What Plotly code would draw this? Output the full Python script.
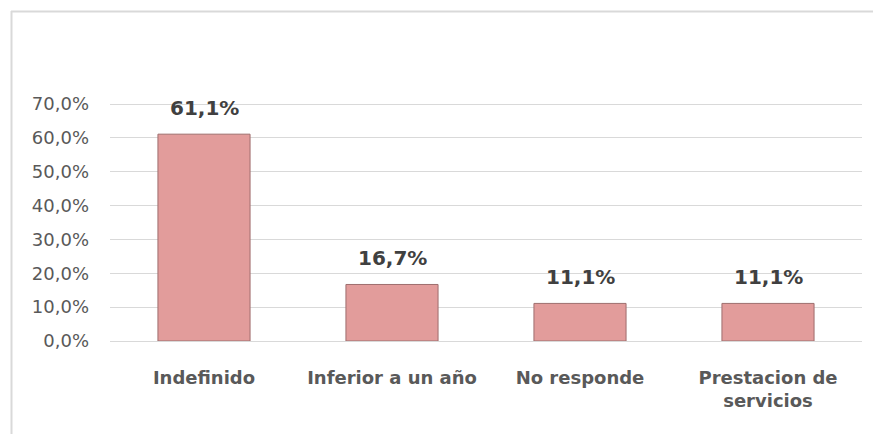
import plotly.graph_objects as go

categories = ["Indefinido", "Inferior a un año", "No responde", "Prestacion de<br>servicios"]
values = [0.611, 0.167, 0.111, 0.111]
labels = ["61,1%", "16,7%", "11,1%", "11,1%"]

OFF = 8  # default page body margin
YMAX = 0.706
W, H = 881 - OFF, 434 - OFF
L, R, B = 110 - OFF, 19, 93
T = 104 - OFF - round((YMAX - 0.7) / 0.7 * 237)
pw, ph = W - L - R, H - T - B

def px(x):
    return (x - OFF - L) / pw

def py(y):
    return 1 - (y - OFF - T) / ph

FONT = "DejaVu Sans, sans-serif"

fig = go.Figure()
fig.add_trace(go.Bar(
    x=categories, y=values, width=0.49,
    marker=dict(color="#E29C9B", line=dict(color="#9E6E6D", width=1)),
    hoverinfo="skip",
))
for c, v, t in zip(categories, values, labels):
    fig.add_annotation(x=c, y=v, text=t, showarrow=False, yanchor="bottom", yshift=12,
                       font=dict(family=FONT, size=20, color="#404040", weight="bold"))

# outer chart border (top and left)
fig.add_shape(type="line", xref="paper", yref="paper", x0=px(11), x1=px(W + 40), y0=py(11.5), y1=py(11.5),
              line=dict(color="#D9D9D9", width=2))
fig.add_shape(type="line", xref="paper", yref="paper", x0=px(11.5), x1=px(11.5), y0=py(11), y1=py(H + 40),
              line=dict(color="#D9D9D9", width=2))

fig.update_layout(
    width=W, height=H, margin=dict(l=L, r=R, t=T, b=B),
    plot_bgcolor="white", paper_bgcolor="white",
    separators=",.", showlegend=False,
    font=dict(family=FONT, color="#595959"),
)
fig.update_yaxes(range=[0, YMAX], dtick=0.1, tickformat=".1%", gridcolor="#D9D9D9", gridwidth=1,
                 zeroline=False, showline=False, ticks="", ticklabelstandoff=20,
                 tickfont=dict(size=18, color="#595959"))
fig.update_xaxes(showline=True, linecolor="#D9D9D9", linewidth=1, ticks="", ticklabelstandoff=20,
                 tickfont=dict(size=18, color="#595959", weight="bold"))

fig.write_html("out.html")
